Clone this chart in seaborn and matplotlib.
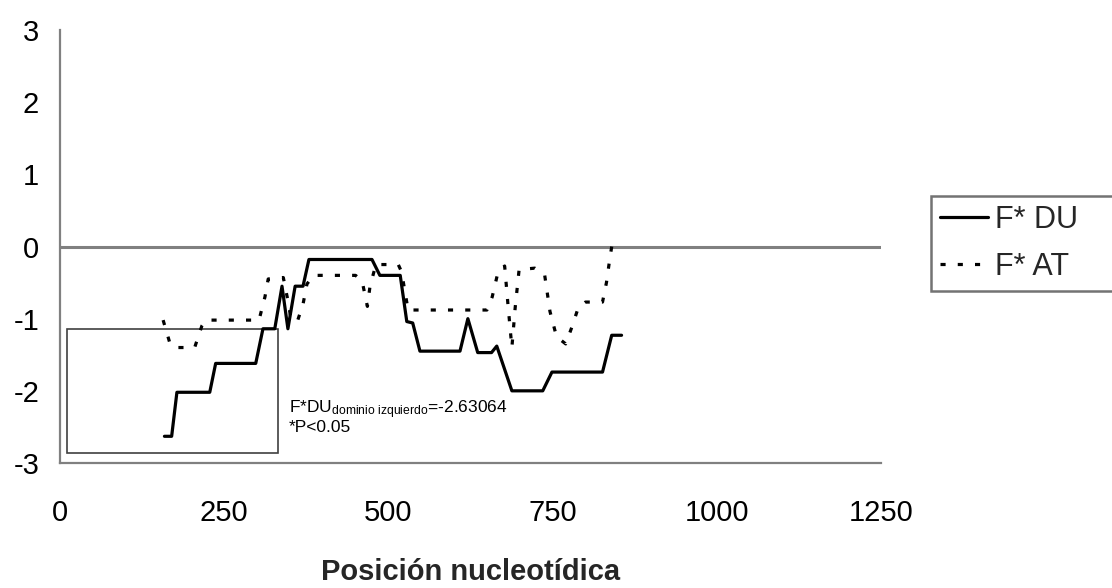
import matplotlib
matplotlib.use("Agg")
import matplotlib.pyplot as plt
import matplotlib.patches as mpatches
import seaborn as sns
import pandas as pd
from matplotlib import font_manager

# ---- data ----
du_pos = [159, 170, 178, 228, 237, 298, 309, 327, 338, 347, 358, 370, 379, 475, 487, 518,
          528, 537, 548, 609, 621, 636, 657, 665, 688, 735, 749, 826, 840, 855]
du_val = [-2.63, -2.63, -2.02, -2.02, -1.62, -1.62, -1.14, -1.14, -0.55, -1.14, -0.55, -0.55,
          -0.18, -0.18, -0.40, -0.40, -1.04, -1.06, -1.45, -1.45, -1.00, -1.47, -1.47, -1.38,
          -2.00, -2.00, -1.74, -1.74, -1.23, -1.23]

at_pos = [157, 167, 173, 205, 216, 222, 303, 312, 317, 340, 347, 352, 362, 370, 376, 386,
          450, 460, 468, 472, 481, 515, 520, 530, 650, 658, 667, 677, 682, 688, 693, 699,
          723, 738, 746, 756, 770, 780, 789, 800, 826, 832, 836, 840]
at_val = [-1.02, -1.33, -1.40, -1.40, -1.10, -1.02, -1.02, -0.70, -0.45, -0.43, -0.75, -1.02,
          -1.02, -0.80, -0.52, -0.40, -0.40, -0.48, -0.83, -0.55, -0.25, -0.25, -0.35, -0.88,
          -0.88, -0.70, -0.35, -0.27, -0.80, -1.40, -0.85, -0.32, -0.30, -0.40, -0.90, -1.25,
          -1.35, -1.10, -0.85, -0.77, -0.77, -0.50, -0.24, 0.00]

series_labels = ["F* DU", "F* AT"]
x_ticks = [0, 250, 500, 750, 1000, 1250]
y_ticks = [-3, -2, -1, 0, 1, 2, 3]
x_label = "Posición nucleotídica"
annot_line1 = r"F*DU$_{\mathrm{dominio\ izquierdo}}$=-2.63064"
annot_line2 = "*P<0.05"

# ---- style ----
sns.set_theme(style="white")
names = {f.name for f in font_manager.fontManager.ttflist}
main_font = "Liberation Sans Narrow" if "Liberation Sans Narrow" in names else "Liberation Sans"
plt.rcParams["font.family"] = [main_font, "DejaVu Sans"]
plt.rcParams["mathtext.fontset"] = "custom"
plt.rcParams["mathtext.rm"] = main_font
plt.rcParams["mathtext.it"] = main_font

fig = plt.figure(figsize=(11.12, 5.88), dpi=100)
fig.patch.set_facecolor("white")
ax = fig.add_axes([60 / 1112, 1 - 463 / 588, 821 / 1112, 433 / 588])
ax.set_facecolor("white")

df_du = pd.DataFrame({"pos": du_pos, "val": du_val})
df_at = pd.DataFrame({"pos": at_pos, "val": at_val})

ax.axhline(0, color="#808080", lw=2.2, zorder=1)

sns.lineplot(data=df_du, x="pos", y="val", ax=ax, color="black", lw=2.3,
             sort=False, label=series_labels[0], zorder=3)
sns.lineplot(data=df_at, x="pos", y="val", ax=ax, color="black", lw=2.3,
             linestyle=(0, (1.6, 3.8)), sort=False, label=series_labels[1], zorder=3)

ax.set_xlim(0, 1250)
ax.set_ylim(-3, 3)
ax.set_xticks(x_ticks)
ax.set_yticks(y_ticks)
ax.set_xticklabels([str(t) for t in x_ticks])
ax.set_yticklabels([str(t) for t in y_ticks])

for s in ["top", "right"]:
    ax.spines[s].set_visible(False)
for s in ["left", "bottom"]:
    ax.spines[s].set_color("#808080")
    ax.spines[s].set_linewidth(1.6)

ax.tick_params(axis="both", which="major", direction="out", colors="#808080",
               labelcolor="black", labelsize=21, width=1.5)
ax.tick_params(axis="x", length=7, pad=19)
ax.tick_params(axis="y", length=6, pad=9)
ax.grid(False)

ax.set_xlabel(x_label, fontsize=21, fontweight="bold", labelpad=22)
ax.set_ylabel("")

# annotation box and text
rect = mpatches.Rectangle((11, -2.86), 321, 1.72, fill=False, ec="#404040", lw=1.2, zorder=2)
ax.add_patch(rect)
ax.text(348, -2.26, annot_line1, fontsize=12.5, va="center", ha="left", color="black")
ax.text(348, -2.51, annot_line2, fontsize=12.5, va="center", ha="left", color="black")

# legend
handles, labels = ax.get_legend_handles_labels()
ax.get_legend().remove()
leg = fig.legend(handles, labels, loc="upper left",
                 bbox_to_anchor=(931 / 1112, 1 - 295 / 588, 190 / 1112, 99 / 588),
                 mode="expand", fontsize=22, frameon=True, fancybox=False, shadow=False,
                 handlelength=1.55, handletextpad=0.25, borderpad=0.3, labelspacing=0.55,
                 borderaxespad=0)
leg.get_frame().set_edgecolor("#505050")
leg.get_frame().set_linewidth(1.8)

fig.savefig("out.png", dpi=100, facecolor="white")
